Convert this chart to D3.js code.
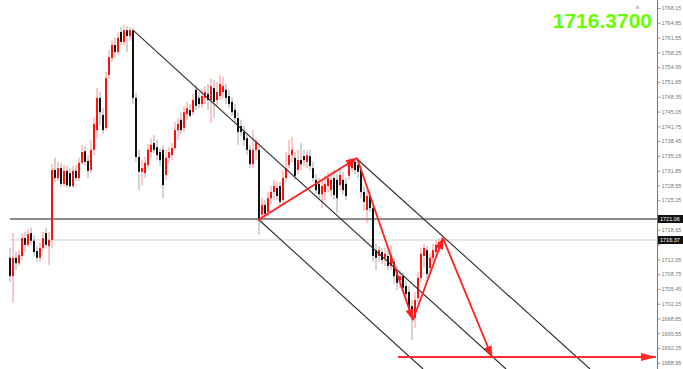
<!DOCTYPE html>
<html><head><meta charset="utf-8">
<script src="https://cdn.jsdelivr.net/npm/d3@7"></script>
<style>html,body{margin:0;padding:0;background:#fff;overflow:hidden}svg{display:block}</style>
</head><body>
<svg id="c" width="683" height="369"></svg>
<script>
// ---- data (prices) ----
const openP = [1712.4,1708.3,1712.4,1711.2,1712.8,1716.8,1715.3,1717.9,1716.2,1713.9,1712.4,1714.6,1717.9,1715.0,1716.4,1732.0,1730.2,1732.4,1728.9,1731.8,1731.3,1728.4,1731.8,1730.2,1733.6,1736.2,1734.0,1732.0,1736.5,1740.9,1748.1,1744.3,1741.4,1753.2,1757.0,1759.9,1758.3,1762.8,1760.6,1763.2,1761.9,1763.2,1748.1,1734.9,1731.6,1731.3,1733.1,1736.0,1738.0,1737.1,1736.0,1736.5,1730.9,1734.7,1735.3,1736.9,1740.9,1743.2,1741.4,1744.5,1745.4,1744.9,1749.9,1748.1,1746.7,1748.1,1749.0,1747.6,1750.3,1747.6,1748.5,1749.4,1749.9,1748.5,1747.2,1745.4,1743.6,1741.8,1740.5,1739.1,1736.5,1733.3,1736.5,1736.5,1722.0,1724.2,1722.6,1725.7,1727.1,1728.0,1728.4,1725.3,1730.2,1733.1,1735.3,1734.7,1732.0,1734.2,1735.1,1733.8,1735.1,1732.4,1729.8,1728.9,1726.6,1727.1,1728.4,1727.5,1730.2,1729.8,1728.6,1729.8,1728.9,1730.7,1732.4,1733.8,1733.1,1732.0,1727.1,1723.1,1726.2,1723.5,1714.1,1712.8,1713.7,1712.4,1712.8,1710.6,1711.5,1709.2,1707.4,1708.3,1706.1,1704.8,1701.6,1699.0,1703.4,1707.9,1712.8,1714.1,1710.1,1712.4,1713.7,1714.6,1715.5];
const closeP = [1708.3,1712.4,1711.2,1713.0,1716.8,1715.3,1717.7,1716.2,1713.7,1712.4,1714.6,1716.8,1715.3,1716.4,1732.0,1730.2,1732.4,1728.9,1731.8,1728.6,1728.4,1731.8,1730.2,1733.6,1736.0,1733.8,1731.8,1736.5,1742.3,1748.1,1744.9,1740.9,1752.5,1757.2,1759.9,1758.3,1761.5,1760.6,1763.2,1761.9,1763.2,1748.1,1734.9,1731.6,1732.4,1733.6,1736.5,1737.6,1736.5,1735.3,1734.2,1728.6,1734.7,1736.0,1736.9,1740.9,1742.3,1740.9,1744.9,1745.8,1744.1,1747.6,1746.3,1746.7,1748.5,1749.4,1747.6,1750.7,1747.2,1749.4,1751.2,1750.7,1748.1,1746.7,1744.9,1743.6,1740.5,1740.5,1738.7,1736.5,1733.3,1736.5,1738.2,1721.1,1724.2,1722.2,1725.7,1727.1,1728.4,1726.2,1724.9,1730.2,1732.4,1735.3,1736.5,1730.7,1734.2,1733.3,1734.2,1735.3,1732.9,1730.2,1727.5,1726.6,1728.4,1728.9,1730.2,1729.8,1726.4,1725.7,1730.9,1727.5,1726.2,1733.3,1733.8,1732.0,1731.6,1727.1,1724.9,1726.2,1723.5,1712.8,1712.4,1714.1,1711.9,1713.3,1710.6,1713.0,1708.3,1706.8,1708.3,1705.7,1704.3,1701.2,1699.0,1703.0,1707.9,1713.3,1714.6,1708.8,1712.4,1714.1,1715.3,1715.9,1716.37];
const highP = [1714.6,1717.9,1713.7,1714.1,1717.9,1718.2,1718.8,1719.1,1717.3,1715.0,1715.9,1718.2,1719.1,1718.2,1733.3,1734.7,1733.8,1733.6,1733.1,1732.9,1732.4,1732.9,1733.1,1734.7,1737.6,1737.4,1735.3,1738.7,1743.8,1750.3,1749.4,1745.8,1753.9,1758.8,1761.0,1761.5,1762.6,1763.9,1764.4,1764.1,1763.9,1763.7,1749.2,1736.5,1734.2,1734.9,1737.8,1739.1,1739.8,1738.7,1736.9,1737.6,1736.5,1737.1,1738.0,1742.7,1743.6,1744.9,1746.3,1747.2,1746.7,1749.0,1751.0,1749.4,1749.9,1750.7,1751.2,1752.5,1752.1,1751.6,1753.2,1752.8,1751.2,1749.9,1748.3,1746.7,1744.9,1743.2,1741.8,1740.0,1737.6,1740.9,1739.1,1737.4,1725.7,1725.3,1727.1,1728.4,1729.8,1729.3,1729.3,1732.0,1736.0,1738.7,1739.4,1736.0,1736.5,1738.0,1736.5,1736.5,1736.5,1733.8,1731.1,1730.2,1729.8,1730.7,1731.6,1731.6,1732.0,1731.1,1732.4,1731.6,1730.2,1734.7,1734.7,1734.5,1734.2,1732.9,1728.4,1727.5,1727.1,1724.4,1715.5,1715.0,1714.6,1714.6,1714.1,1715.3,1712.4,1710.6,1709.7,1709.2,1707.4,1706.1,1703.0,1704.8,1709.2,1714.6,1715.5,1715.0,1713.3,1715.5,1716.4,1716.8,1717.0];
const lowP = [1707.0,1702.3,1709.7,1710.6,1711.9,1713.7,1714.8,1715.3,1712.8,1711.5,1711.5,1713.9,1714.4,1710.8,1714.6,1729.3,1729.5,1728.2,1728.4,1728.2,1728.0,1728.0,1729.5,1729.5,1733.1,1732.9,1730.2,1731.3,1735.3,1739.1,1742.0,1740.0,1740.7,1752.3,1756.1,1757.2,1757.7,1759.9,1759.7,1758.3,1760.8,1746.7,1733.8,1727.5,1728.6,1730.2,1732.4,1734.7,1735.8,1734.2,1732.9,1725.7,1729.8,1733.6,1734.2,1736.5,1738.7,1740.0,1740.5,1743.2,1743.6,1744.3,1745.4,1745.8,1745.8,1746.7,1745.4,1742.5,1743.6,1746.3,1747.6,1748.1,1746.7,1745.8,1744.1,1742.7,1737.6,1739.6,1737.4,1735.3,1732.4,1732.4,1734.2,1717.5,1720.4,1721.3,1721.7,1724.4,1725.3,1725.3,1724.0,1724.4,1729.3,1732.4,1733.8,1729.8,1731.1,1732.0,1732.9,1732.4,1732.0,1729.3,1726.6,1725.3,1723.5,1725.3,1727.1,1726.2,1725.3,1722.4,1727.5,1726.6,1725.3,1729.8,1731.6,1731.1,1730.2,1725.7,1723.1,1720.2,1722.6,1711.5,1709.7,1711.5,1711.0,1710.6,1709.7,1709.7,1706.6,1705.2,1705.7,1704.8,1703.0,1699.9,1694.1,1696.7,1702.5,1707.0,1710.1,1707.9,1709.2,1711.5,1713.0,1713.7,1714.6];

const axisTicks = [1768.15,1764.85,1761.55,1758.25,1754.95,1751.65,1748.35,1745.05,1741.75,1738.45,1735.15,1731.85,1728.55,1725.25,1721.95,1718.65,1715.35,1712.05,1708.75,1705.45,1702.15,1698.85,1695.55,1692.25,1688.95];
const currentPrice = 1716.37;
const currentLabel = "1716.3700";
const levelPrice = 1721.06;

// channel lines: [candle index, price] pairs
const channelA = [[41, 1763.2], [165.33, 1687.58]];
const channelB = [[115.67, 1734.45], [193.33, 1687.58]];
const channelC = [[82.67, 1721.06], [137.67, 1687.58]];
// projected red path
const redPath = [[82.67, 1720.83], [115.67, 1734.67], [134.33, 1698.52], [144.33, 1716.8], [160.67, 1690.26]];
const targetLine = [[129.33, 1690.26], [215.33, 1690.26]];

// ---- drawing ----
const W = 683, H = 369, axisX = 657;
const svg = d3.select("#c");
const x = d3.scaleLinear().domain([0, 144]).range([10, 442]);
const y = d3.scaleLinear().domain([1687.58, 1769.94]).range([H, 0]);

svg.append("defs").append("clipPath").attr("id", "plot")
  .append("rect").attr("x", 0).attr("y", 0).attr("width", axisX).attr("height", H);
const defs = svg.select("defs");
defs.append("marker").attr("id", "ah").attr("markerUnits", "userSpaceOnUse")
  .attr("markerWidth", 12).attr("markerHeight", 8).attr("refX", 11).attr("refY", 4)
  .attr("orient", "auto").append("path").attr("d", "M0,0L12,4L0,8Z").attr("fill", "#ff1f1f");
defs.append("marker").attr("id", "ah2").attr("markerUnits", "userSpaceOnUse")
  .attr("markerWidth", 16).attr("markerHeight", 8).attr("refX", 15).attr("refY", 4)
  .attr("orient", "auto").append("path").attr("d", "M0,0L16,4L0,8Z").attr("fill", "#ff2a2a");

const g = svg.append("g").attr("clip-path", "url(#plot)");

// reference horizontal lines
g.append("line").attr("x1", x(0)).attr("x2", axisX).attr("y1", y(currentPrice)).attr("y2", y(currentPrice))
  .attr("stroke", "#e2e2e2").attr("stroke-width", 1.5);
g.append("line").attr("x1", x(0)).attr("x2", axisX).attr("y1", y(levelPrice)).attr("y2", y(levelPrice))
  .attr("stroke", "#1a1a1a").attr("stroke-width", 1.2);

// candles
const idx = d3.range(openP.length);
const cg = g.append("g");
cg.selectAll("line.w").data(idx).join("line").attr("class", "w")
  .attr("x1", i => x(i)).attr("x2", i => x(i))
  .attr("y1", i => y(highP[i])).attr("y2", i => y(lowP[i]))
  .attr("stroke", i => closeP[i] >= openP[i] ? "#ff6a6a" : "#8a8a8a")
  .attr("stroke-opacity", 0.75).attr("stroke-width", 1);
cg.selectAll("rect.b").data(idx).join("rect").attr("class", "b")
  .attr("x", i => x(i) - 1).attr("width", 2)
  .attr("y", i => y(Math.max(openP[i], closeP[i])))
  .attr("height", i => Math.max(1, Math.abs(y(openP[i]) - y(closeP[i]))))
  .attr("fill", i => closeP[i] >= openP[i] ? "#ff1010" : "#111");

// channel lines
const ln = d3.line().x(d => x(d[0])).y(d => y(d[1]));
[channelA, channelB, channelC].forEach(c => {
  g.append("path").attr("d", ln(c)).attr("fill", "none").attr("stroke", "#2a2a2a").attr("stroke-width", 1.1);
});

// red projection arrows
for (let k = 0; k < redPath.length - 1; k++) {
  g.append("path").attr("d", ln([redPath[k], redPath[k + 1]])).attr("fill", "none")
    .attr("stroke", "#ff1f1f").attr("stroke-width", 1.8).attr("marker-end", "url(#ah)");
}
svg.append("path").attr("d", ln(targetLine)).attr("fill", "none")
  .attr("stroke", "#ff2a2a").attr("stroke-width", 2.2).attr("marker-end", "url(#ah2)");

// right price axis (labels hidden where the price boxes cover them)
const boxed = [levelPrice, currentPrice];
const axis = d3.axisRight(y).tickValues(axisTicks).tickSize(3).tickPadding(1)
  .tickFormat(d => boxed.some(b => Math.abs(y(b) - y(d)) < 7) ? "" : d.toFixed(2));
const ag = svg.append("g").attr("transform", `translate(${axisX + 0.5},0)`).call(axis);
ag.select(".domain").attr("stroke", "#777").attr("d", `M0,0V${H}`);
ag.selectAll(".tick line").attr("stroke", "#999");
ag.selectAll(".tick text").attr("fill", "#777").style("font-family", "Liberation Sans, Arial, sans-serif")
  .style("font-size", "5.5px");

// price boxes on axis
boxed.forEach(p => {
  svg.append("rect").attr("x", axisX + 1).attr("y", y(p) - 4).attr("width", W - axisX - 1).attr("height", 8).attr("fill", "#111");
  svg.append("text").attr("x", axisX + 3).attr("y", y(p) + 2).attr("fill", "#fff")
    .style("font-family", "Liberation Sans, Arial, sans-serif").style("font-size", "5.5px").text(p.toFixed(2));
});

// top-right big price
svg.append("text").attr("x", 652).attr("y", 28).attr("text-anchor", "end")
  .attr("fill", "#66ff00").style("font-family", "Liberation Sans, Arial, sans-serif")
  .style("font-weight", "bold").style("font-size", "21px").text(currentLabel);
svg.append("rect").attr("x", 636).attr("y", 6).attr("width", 3).attr("height", 3).attr("fill", "#c8c8c8");
</script>
</body></html>
